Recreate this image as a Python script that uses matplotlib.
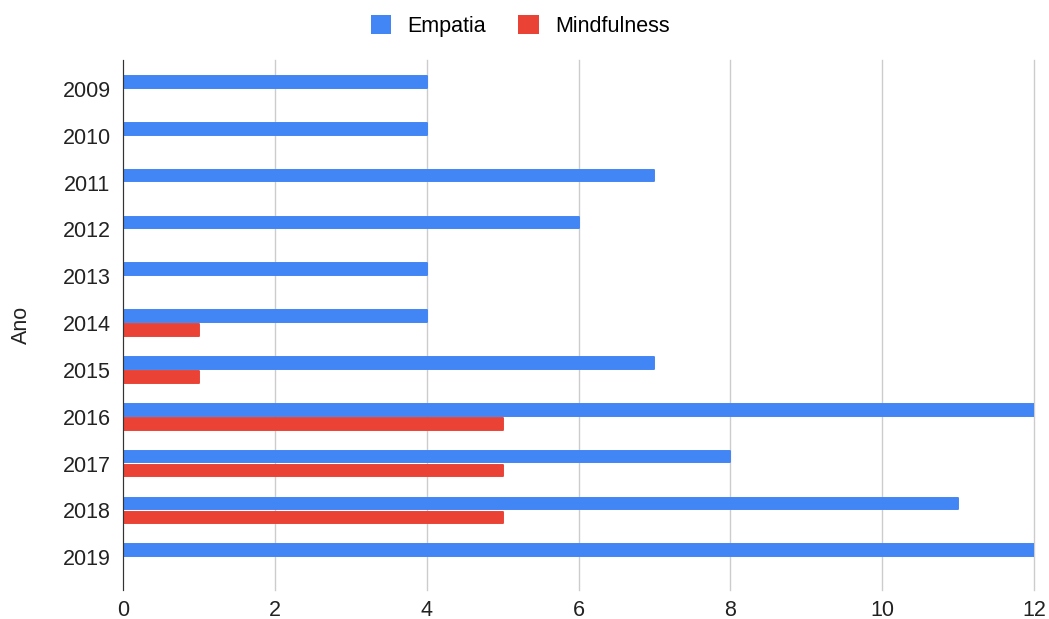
import numpy as np
import matplotlib.pyplot as plt

# data
anos = ['2009', '2010', '2011', '2012', '2013', '2014', '2015', '2016', '2017', '2018', '2019']
empatia = [4, 4, 7, 6, 4, 4, 7, 12, 8, 11, 12]
mindfulness = [0, 0, 0, 0, 0, 1, 1, 5, 5, 5, 0]

plt.rcParams['font.family'] = ['Liberation Sans', 'DejaVu Sans']

fig = plt.figure(figsize=(10.49, 6.19), dpi=100)
ax = fig.add_axes([123 / 1049, 1 - 590 / 619, (1034 - 123) / 1049, 530 / 619])

y = np.arange(len(anos))
h = 0.25
b1 = ax.barh(y - 0.15, empatia, height=h, color='#4285F4', label='Empatia', zorder=3)
b2 = ax.barh(y + 0.15, mindfulness, height=h, color='#EA4335', label='Mindfulness', zorder=3)
# slightly rounded bar ends
for bars, vals, c in [(b1, empatia, '#4285F4'), (b2, mindfulness, '#EA4335')]:
    for r, v in zip(bars, vals):
        r.set_edgecolor(c)
        r.set_joinstyle('round')
        r.set_linewidth(1.4 if v > 0 else 0)

ax.set_xlim(0, 12)
ax.set_ylim(10.7, -0.62)
ax.set_xticks(range(0, 13, 2))
ax.set_yticks(y)
ax.set_yticklabels(anos)
ax.tick_params(length=0, labelsize=15.5, colors='#222222')
ax.tick_params(axis='x', pad=7)
ax.tick_params(axis='y', pad=9)
ax.grid(axis='x', color='#cccccc', linewidth=1, zorder=0)
for line in ax.get_xgridlines():
    line.set_clip_on(False)
for s in ['top', 'right', 'bottom']:
    ax.spines[s].set_visible(False)
ax.spines['left'].set_color('#333333')
ax.spines['left'].set_zorder(4)

ax.set_ylabel('Ano', fontsize=15.5, color='#222222', labelpad=22)

leg = fig.legend(loc='center', bbox_to_anchor=(0.496, 1 - 26 / 619), ncol=2, frameon=False,
                 fontsize=15.5, handlelength=0.95, handleheight=0.95, columnspacing=1.5,
                 handletextpad=0.75)
for p in leg.get_patches():
    p.set_linewidth(0)

fig.savefig('out.png', dpi=100)
